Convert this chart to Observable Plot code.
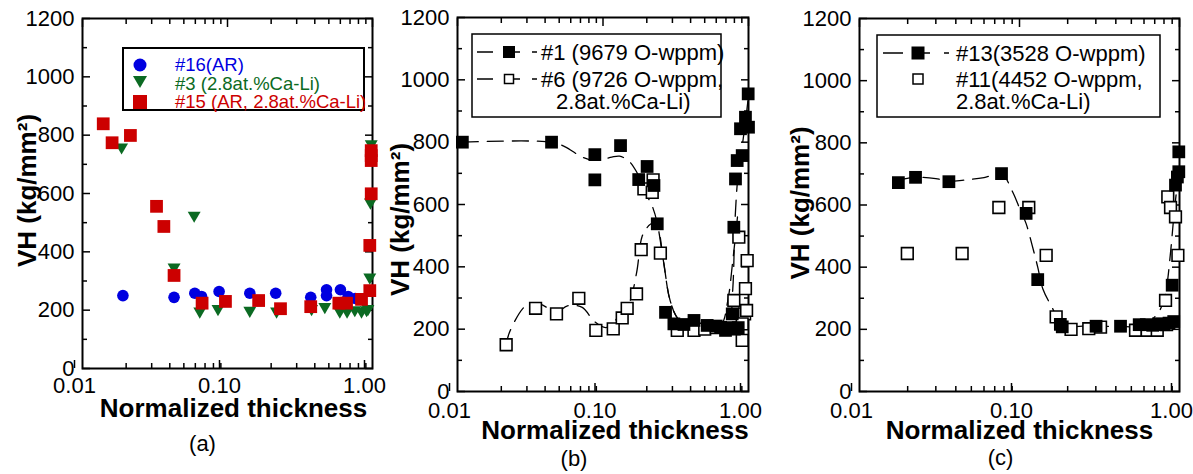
<!DOCTYPE html>
<html><head><meta charset="utf-8">
<script src="https://cdn.jsdelivr.net/npm/d3@7"></script>
<script src="https://cdn.jsdelivr.net/npm/@observablehq/plot@0.6"></script>
<style>
body{margin:0;background:#fff;font-family:"Liberation Sans",Arial,sans-serif;}
#root{position:relative;width:1193px;height:474px;overflow:hidden;background:#fff;}
.panel{position:absolute;top:0;}
#overlay{position:absolute;left:0;top:0;pointer-events:none;}
</style></head><body><div id="root"></div>
<script>
// ---------- tick values ----------
const yMajor = [0,200,400,600,800,1000,1200];
const yMinor = [100,300,500,700,900,1100];
const xMajor = [0.01,0.1,1];
const xMinor = [0.02,0.03,0.04,0.05,0.06,0.07,0.08,0.09,0.2,0.3,0.4,0.5,0.6,0.7,0.8,0.9];

// ---------- panel (a) ----------
const a16X = [0.019,0.0428,0.0595,0.0662,0.0875,0.1425,0.215,0.375,0.482,0.482,0.601,0.679,0.76];
const a16Y = [250,244,258,247,264,258,258,244,270,250,270,247,240];
const a3X = [0.0186,0.0428,0.0589,0.0644,0.086,0.1425,0.218,0.38,0.469,0.595,0.668,0.755,0.84,0.91,0.93,0.958,0.968,0.98];
const a3Y = [759,347,525,196,205,199,196,205,212,196,196,201,196,201,205,313,570,770];
const a15X = [0.0139,0.016,0.0214,0.0324,0.0364,0.0428,0.0668,0.0968,0.164,0.232,0.375,0.586,0.662,0.84,0.958,0.958,0.98,0.98,0.98,0.98];
const a15Y = [839,774,799,556,487,319,224,230,233,205,212,224,224,237,267,422,599,713,747,730];

// ---------- panel (b) ----------
const b1X = [0.0108,0.0443,0.0879,0.0879,0.132,0.176,0.201,0.224,0.236,0.269,0.307,0.36,0.422,0.52,0.6,0.643,0.695,0.75,0.773,0.8,0.85,0.793,0.814,0.836,0.905,0.881,0.953,0.995,1.0];
const b1Y = [800,800,760,679,789,680,722,661,538,254,217,215,228,212,210,206,196,205,249,200,205,527,682,741,757,843,880,955,848];
const b6X = [0.0216,0.0344,0.0479,0.0682,0.0893,0.1176,0.1355,0.1466,0.17,0.183,0.191,0.221,0.218,0.248,0.324,0.422,0.5,0.6,0.793,0.858,0.905,0.953,0.979,0.94,0.905,0.97];
const b6Y = [150,267,249,299,196,201,236,267,313,455,650,679,639,444,196,196,200,205,292,495,164,330,420,249,217,260];
const b1FitX = [0.0108,0.0443,0.055,0.07,0.085,0.1,0.115,0.13,0.15,0.17,0.2,0.22,0.236,0.26,0.29,0.33,0.4,0.55,0.68,0.74,0.78,0.81,0.85,0.9,0.95,1.0];
const b1FitY = [800,800,785,755,742,745,752,755,740,705,630,590,540,420,290,232,215,210,210,225,330,560,700,780,860,950];
const b6FitX = [0.0216,0.023,0.03,0.037,0.0479,0.057,0.072,0.087,0.105,0.128,0.15,0.17,0.185,0.2,0.22,0.236,0.26,0.29,0.33,0.4,0.55,0.65,0.72,0.78,0.84];
const b6FitY = [150,195,278,280,255,275,270,225,205,240,280,380,495,525,540,530,420,290,232,210,205,215,290,420,560];

// ---------- panel (c) ----------
const c13X = [0.0175,0.0224,0.0362,0.0772,0.11,0.13,0.18,0.185,0.301,0.428,0.56,0.62,0.68,0.74,0.8,0.86,0.9,0.92,0.944,0.97,0.99,0.99];
const c13Y = [672,689,675,701,573,360,216,208,210,210,215,215,213,218,215,220,342,225,664,690,707,771];
const c11X = [0.0199,0.0438,0.0743,0.1143,0.1468,0.1695,0.21,0.271,0.321,0.531,0.628,0.726,0.818,0.83,0.845,0.879,0.944,0.977];
const c11Y = [444,444,592,592,438,240,200,202,207,197,197,197,293,215,626,592,562,438];
const c13FitX = [0.0175,0.0224,0.03,0.036,0.045,0.06,0.0772,0.09,0.1,0.11,0.12,0.13,0.14,0.16,0.185,0.25,0.4,0.6,0.7,0.76,0.82,0.88,0.92,0.96,1.0];
const c13FitY = [680,689,685,676,680,688,700,645,590,540,470,400,330,270,212,210,210,212,240,265,320,450,560,650,740];

// ---------- legend labels ----------
const legA = ["#16(AR)", "#3 (2.8at.%Ca-Li)", "#15 (AR, 2.8at.%Ca-Li)"];
const legB = ["#1 (9679 O-wppm)", "#6 (9726 O-wppm,", "2.8at.%Ca-Li)"];
const legC = ["#13(3528 O-wppm)", "#11(4452 O-wppm,", "2.8at.%Ca-Li)"];
const yTitle = "VH (kg/mm²)";
const xTitle = "Normalized thickness";

const BLUE = "#0000e0", GREEN = "#0b6a22", RED = "#cc0000";
const FONT = "'Liberation Sans', Arial, sans-serif";

const pts = (xs, ys) => xs.map((x, i) => ({x, y: ys[i]}));

function axes(xPad) {
  const blank = () => "";
  return [
    Plot.axisY({anchor: "left", ticks: yMajor, tickSize: -8, tickPadding: 16, fontSize: 22, label: null, tickFormat: d => String(d), strokeWidth: 1.5}),
    Plot.axisY({anchor: "right", ticks: yMajor, tickSize: -8, tickFormat: blank, label: null, strokeWidth: 1.5}),
    Plot.axisY({anchor: "left", ticks: yMinor, tickSize: -5, tickFormat: blank, label: null, strokeWidth: 1.5}),
    Plot.axisY({anchor: "right", ticks: yMinor, tickSize: -5, tickFormat: blank, label: null, strokeWidth: 1.5}),
    Plot.axisX({anchor: "bottom", ticks: xMajor, tickSize: -8, tickPadding: xPad, fontSize: 22, dx: -8, label: null, tickFormat: d3.format(".2f"), strokeWidth: 1.5}),
    Plot.axisX({anchor: "top", ticks: xMajor, tickSize: -8, tickFormat: blank, label: null, strokeWidth: 1.5}),
    Plot.axisX({anchor: "bottom", ticks: xMinor, tickSize: -5, tickFormat: blank, label: null, strokeWidth: 1.5}),
    Plot.axisX({anchor: "top", ticks: xMinor, tickSize: -5, tickFormat: blank, label: null, strokeWidth: 1.5}),
    Plot.frame({stroke: "black", strokeWidth: 2})
  ];
}

function titles(o) {
  return [
    Plot.text([yTitle], {text: d => d, frameAnchor: "left", textAnchor: "middle", lineAnchor: "middle", rotate: -90, dx: o.ydx, dy: o.ydy, fontSize: 26, fontWeight: "bold", fill: "black"}),
    Plot.text([xTitle], {text: d => d, frameAnchor: "bottom", textAnchor: "middle", lineAnchor: "middle", dx: o.xdx, dy: o.xdy, fontSize: 26, fontWeight: "bold", fill: "black"}),
    Plot.text([o.cap], {text: d => d, frameAnchor: "bottom", textAnchor: "middle", lineAnchor: "middle", dx: o.cdx, dy: o.cdy, fontSize: 22, fill: "black"})
  ];
}

function makePlot(o, marks) {
  return Plot.plot({
    width: o.width, height: 474,
    marginLeft: o.mL, marginRight: o.mR, marginTop: o.mT, marginBottom: 474 - o.bottom,
    style: {fontFamily: FONT, background: "transparent", overflow: "visible", color: "black"},
    x: {type: "log", domain: [0.01, 1]},
    y: {domain: [0, 1200]},
    marks: [...axes(o.xPad), ...marks, ...titles(o)]
  });
}

const dash = {stroke: "black", strokeWidth: 1.3, strokeDasharray: "16,9", curve: "catmull-rom"};

const pa = makePlot({width: 390, mL: 82, mR: 18, mT: 18, bottom: 368, xPad: 17,
  ydx: -55, ydy: -3, xdx: 6, xdy: 40, cap: "(a)", cdx: -25, cdy: 75}, [
  Plot.dot(pts(a16X, a16Y), {x: "x", y: "y", r: 5.8, fill: BLUE}),
  Plot.dot(pts(a3X, a3Y), {x: "x", y: "y", symbol: "triangle", rotate: 180, r: 4.8, fill: GREEN}),
  Plot.dot(pts(a15X, a15Y), {x: "x", y: "y", symbol: "square", r: 7.2, fill: RED})
]);

const pb = makePlot({width: 400, mL: 67, mR: 42, mT: 17, bottom: 391, xPad: 19,
  ydx: -57, ydy: 15, xdx: 12, xdy: 39, cap: "(b)", cdx: -29, cdy: 67}, [
  Plot.line(pts(b1FitX, b1FitY), {x: "x", y: "y", ...dash}),
  Plot.line(pts(b6FitX, b6FitY), {x: "x", y: "y", ...dash}),
  Plot.dot(pts(b6X, b6Y), {x: "x", y: "y", symbol: "square", r: 6.6, fill: "white", stroke: "black", strokeWidth: 1.6}),
  Plot.dot(pts(b1X, b1Y), {x: "x", y: "y", symbol: "square", r: 7.2, fill: "black"})
]);

const pc = makePlot({width: 403, mL: 69, mR: 14, mT: 18, bottom: 391, xPad: 19,
  ydx: -59, ydy: -2, xdx: 0, xdy: 39, cap: "(c)", cdx: -19, cdy: 66}, [
  Plot.line(pts(c13FitX, c13FitY), {x: "x", y: "y", ...dash}),
  Plot.dot(pts(c11X, c11Y), {x: "x", y: "y", symbol: "square", r: 6.6, fill: "white", stroke: "black", strokeWidth: 1.6}),
  Plot.dot(pts(c13X, c13Y), {x: "x", y: "y", symbol: "square", r: 7.2, fill: "black"})
]);

const root = document.getElementById("root");
[[pa, 0], [pb, 390], [pc, 790]].forEach(([svg, left]) => {
  const d = document.createElement("div");
  d.className = "panel";
  d.style.left = left + "px";
  d.appendChild(svg);
  root.appendChild(d);
});

// ---------- legends (overlay svg) ----------
const ns = "http://www.w3.org/2000/svg";
const ov = document.createElementNS(ns, "svg");
ov.setAttribute("id", "overlay");
ov.setAttribute("width", 1193);
ov.setAttribute("height", 474);
root.appendChild(ov);
function el(tag, attrs, text) {
  const e = document.createElementNS(ns, tag);
  for (const k in attrs) e.setAttribute(k, attrs[k]);
  if (text != null) e.textContent = text;
  ov.appendChild(e);
  return e;
}
function txt(x, y, s, size, fill) {
  el("text", {x, y, "dominant-baseline": "central", "font-size": size, "font-family": FONT, fill}, s);
}
function sq(cx, cy, side, filled) {
  el("rect", {x: cx - side / 2, y: cy - side / 2, width: side, height: side,
    fill: filled === true ? "black" : filled === false ? "white" : filled,
    stroke: filled === false ? "black" : "none", "stroke-width": 1.5});
}
// (a)
el("rect", {x: 123, y: 48, width: 241, height: 62, fill: "white", stroke: "black", "stroke-width": 2});
el("circle", {cx: 140, cy: 65, r: 6.5, fill: BLUE});
el("path", {d: "M133,76 L147,76 L140,88 Z", fill: GREEN});
sq(140, 102, 14, RED);
txt(175, 64, legA[0], 18.5, BLUE);
txt(175, 83, legA[1], 18.5, GREEN);
txt(175, 101, legA[2], 18.5, RED);
// (b)
el("rect", {x: 472, y: 34, width: 249, height: 83, fill: "white", stroke: "black", "stroke-width": 1.5});
[52, 79].forEach((y, i) => {
  el("line", {x1: 477, x2: 493, y1: y, y2: y, stroke: "black", "stroke-width": 1.5});
  el("line", {x1: 509, x2: 520, y1: y, y2: y, stroke: "black", "stroke-width": 1.5});
  el("line", {x1: 532, x2: 537, y1: y, y2: y, stroke: "black", "stroke-width": 1.5});
  sq(509, y, i === 0 ? 12 : 9, i === 0);
});
txt(541, 52, legB[0], 22, "black");
txt(541, 79, legB[1], 22, "black");
txt(556, 101, legB[2], 22, "black");
// (c)
el("rect", {x: 877, y: 35, width: 283, height: 82, fill: "white", stroke: "black", "stroke-width": 1.5});
el("line", {x1: 883, x2: 903, y1: 53, y2: 53, stroke: "black", "stroke-width": 1.5});
el("line", {x1: 918, x2: 930, y1: 53, y2: 53, stroke: "black", "stroke-width": 1.5});
el("line", {x1: 944, x2: 949, y1: 53, y2: 53, stroke: "black", "stroke-width": 1.5});
sq(918, 53, 13, true);
sq(918, 79, 10, false);
txt(956, 53, legC[0], 22, "black");
txt(956, 79, legC[1], 22, "black");
txt(956, 101, legC[2], 22, "black");
</script></body></html>
